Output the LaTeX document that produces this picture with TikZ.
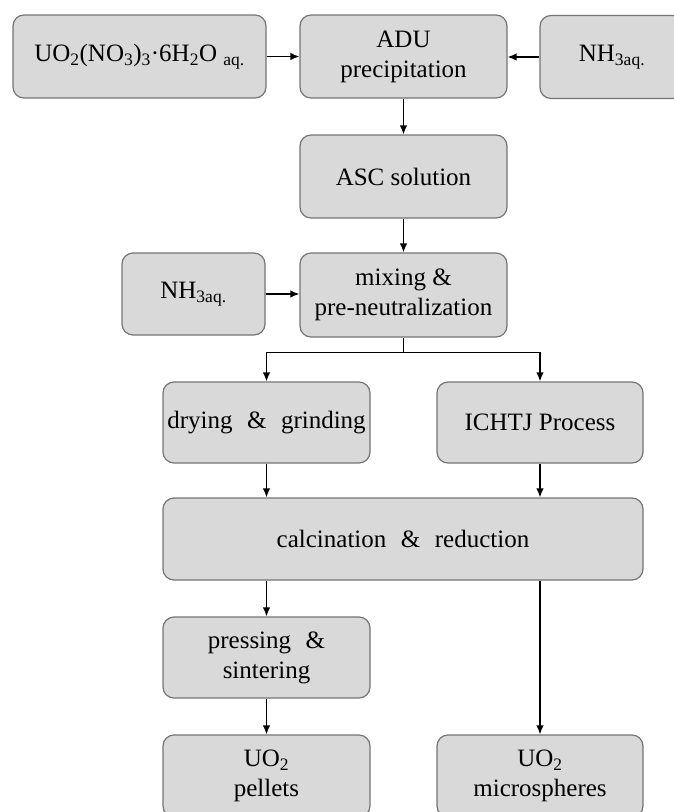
\documentclass[tikz,border=0pt]{standalone}
\usepackage{fontspec}
\setmainfont{Liberation Serif}
\usetikzlibrary{arrows.meta}
\definecolor{boxfill}{HTML}{D9D9D9}
\definecolor{boxline}{HTML}{757575}
\tikzset{
  procbox/.style={draw=boxline, fill=boxfill, line width=1.2pt, rounded corners=11pt,
    rectangle, inner sep=0pt, align=center, text=black,
    font=\fontsize{25}{30}\selectfont},
  arr/.style={line width=1.3pt, -{Latex[length=9pt,width=7.5pt]}},
  ln/.style={line width=1.3pt}
}
\begin{document}
\begin{tikzpicture}[x=1pt,y=-1pt]
\useasboundingbox (0,0) rectangle (674,812);
\clip (0,0) rectangle (674,812);
\fill[white] (0,0) rectangle (674,812);
% top row
\node[procbox, minimum width=253pt, minimum height=83pt] (uo) at (139.5,56.5)
  {UO\textsubscript{2}(NO\textsubscript{3})\textsubscript{3}·6H\textsubscript{2}O \textsubscript{aq.}};
\node[procbox, minimum width=207pt, minimum height=83pt] (adu) at (403.5,56.5) {ADU\\precipitation};
\node[procbox, minimum width=144pt, minimum height=83pt] (nht) at (612,57) {NH\textsubscript{3aq.}};
% ASC
\node[procbox, minimum width=207pt, minimum height=83pt] (asc) at (403.5,176.5) {ASC solution};
% mixing row
\node[procbox, minimum width=143pt, minimum height=82pt] (nhl) at (193.5,294) {NH\textsubscript{3aq.}};
\node[procbox, minimum width=207pt, minimum height=84pt] (mix) at (403.5,295) {mixing \&\\pre-neutralization};
% drying / ICHTJ
\node[procbox, minimum width=207pt, minimum height=81pt] (dry) at (266.5,422.5) {drying\hspace{0.33em} \&\hspace{0.33em} grinding};
\node[procbox, minimum width=206pt, minimum height=81pt] (ich) at (540,422.5) {ICHTJ Process};
% calcination
\node[procbox, minimum width=480pt, minimum height=82pt] (cal) at (403,539) {calcination\hspace{0.33em} \&\hspace{0.33em} reduction};
% pressing
\node[procbox, minimum width=207pt, minimum height=81pt] (prs) at (266.5,657.5) {pressing\hspace{0.33em} \&\\sintering};
% products
\node[procbox, minimum width=207pt, minimum height=82pt] (pel) at (266.5,776) {UO\textsubscript{2}\\pellets};
\node[procbox, minimum width=206pt, minimum height=82pt] (mic) at (540,776) {UO\textsubscript{2}\\microspheres};
% connectors
\draw[arr] (uo.east) -- (adu.west);
\draw[arr] (nht.west) -- (nht.west -| adu.east);
\draw[arr] (adu.south) -- (asc.north);
\draw[arr] (asc.south) -- (mix.north);
\draw[arr] (nhl.east) -- (nhl.east -| mix.west);
\draw[ln] (mix.south) -- ++(0,15) coordinate (br);
\draw[arr] (br) -| (dry.north);
\draw[arr] (br) -| (ich.north);
\draw[arr] (dry.south) -- (dry.south |- cal.north);
\draw[arr] (ich.south) -- (ich.south |- cal.north);
\draw[arr] (prs.north |- cal.south) -- (prs.north);
\draw[arr] (mic.north |- cal.south) -- (mic.north);
\draw[arr] (prs.south) -- (pel.north);
\end{tikzpicture}
\end{document}
